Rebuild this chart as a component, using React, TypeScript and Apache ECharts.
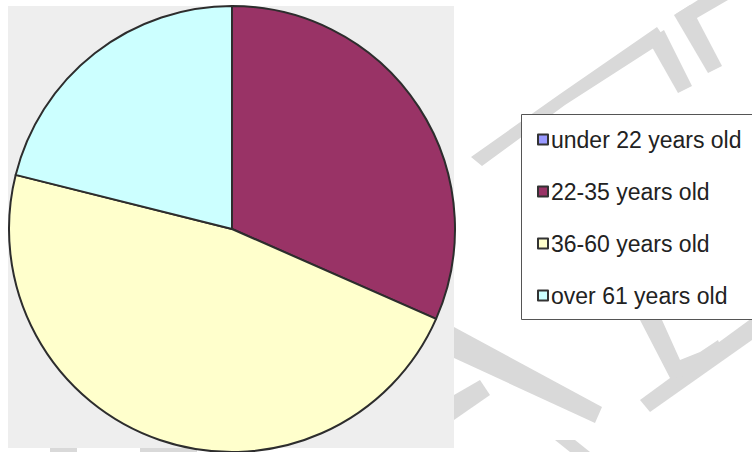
import React, { useEffect, useRef } from "react";
import * as echarts from "echarts";

const categories = ["under 22 years old", "22-35 years old", "36-60 years old", "over 61 years old"];
const values = [0, 31.6, 47.3, 21.1];
const colors = ["#9999ff", "#993366", "#ffffcc", "#ccffff"];

const watermark: number[][][] = [
  [[471, 157], [560, 94], [657, 27], [666, 40], [565, 105], [482, 166]],
  [[648, 40], [664, 30], [692, 86], [678, 93]],
  [[674, 15], [690, 5], [722, 66], [708, 73]],
  [[676, 14], [698, 0], [728, 0], [690, 22]],
  [[454, 327], [602, 407], [595, 423], [454, 358]],
  [[454, 395], [480, 380], [490, 395], [454, 420]],
  [[640, 400], [752, 318], [752, 340], [650, 412]],
  [[640, 320], [662, 320], [680, 360], [700, 352], [718, 340], [722, 350], [690, 375], [670, 378]],
  [[555, 440], [575, 440], [590, 452], [570, 452]],
  [[50, 446], [77, 446], [77, 452], [50, 452]],
  [[140, 446], [197, 446], [197, 452], [140, 452]],
];

export default function App() {
  const ref = useRef<HTMLDivElement>(null);
  useEffect(() => {
    if (!ref.current) return;
    const chart = echarts.init(ref.current, undefined, { renderer: "svg" });
    chart.setOption({
      animation: false,
      backgroundColor: "#ffffff",
      graphic: [
        ...watermark.map((pts) => ({
          type: "polygon",
          z: 0,
          silent: true,
          shape: { points: pts },
          style: { fill: "#d9d9d9" },
        })),
        {
          type: "rect",
          z: 1,
          silent: true,
          shape: { x: 8, y: 6, width: 446, height: 442 },
          style: { fill: "#eeeeee" },
        },
        {
          type: "rect",
          z: 1,
          silent: true,
          shape: { x: 521.5, y: 114.5, width: 240, height: 205 },
          style: { fill: "#ffffff", stroke: "#555555", lineWidth: 1 },
        },
      ],
      legend: {
        orient: "vertical",
        left: 537,
        top: 128,
        padding: 0,
        itemWidth: 10,
        itemHeight: 10,
        itemGap: 29,
        icon: "rect",
        data: categories,
        itemStyle: { borderColor: "#333333", borderWidth: 2 },
        textStyle: { fontSize: 23, fontFamily: "Liberation Sans, Arial, sans-serif", color: "#222222", padding: [0, 0, 0, -2] },
      },
      series: [
        {
          type: "pie",
          center: [232, 229],
          radius: 223,
          startAngle: 90,
          clockwise: true,
          label: { show: false },
          labelLine: { show: false },
          emphasis: { disabled: true },
          itemStyle: { borderColor: "#2d2d2d", borderWidth: 2 },
          data: categories.map((name, i) => ({
            name,
            value: values[i],
            itemStyle: { color: colors[i] },
          })),
        },
      ],
    });
    return () => chart.dispose();
  }, []);
  return <div ref={ref} style={{ width: 752, height: 452, position: "absolute", left: 0, top: 0 }} />;
}
